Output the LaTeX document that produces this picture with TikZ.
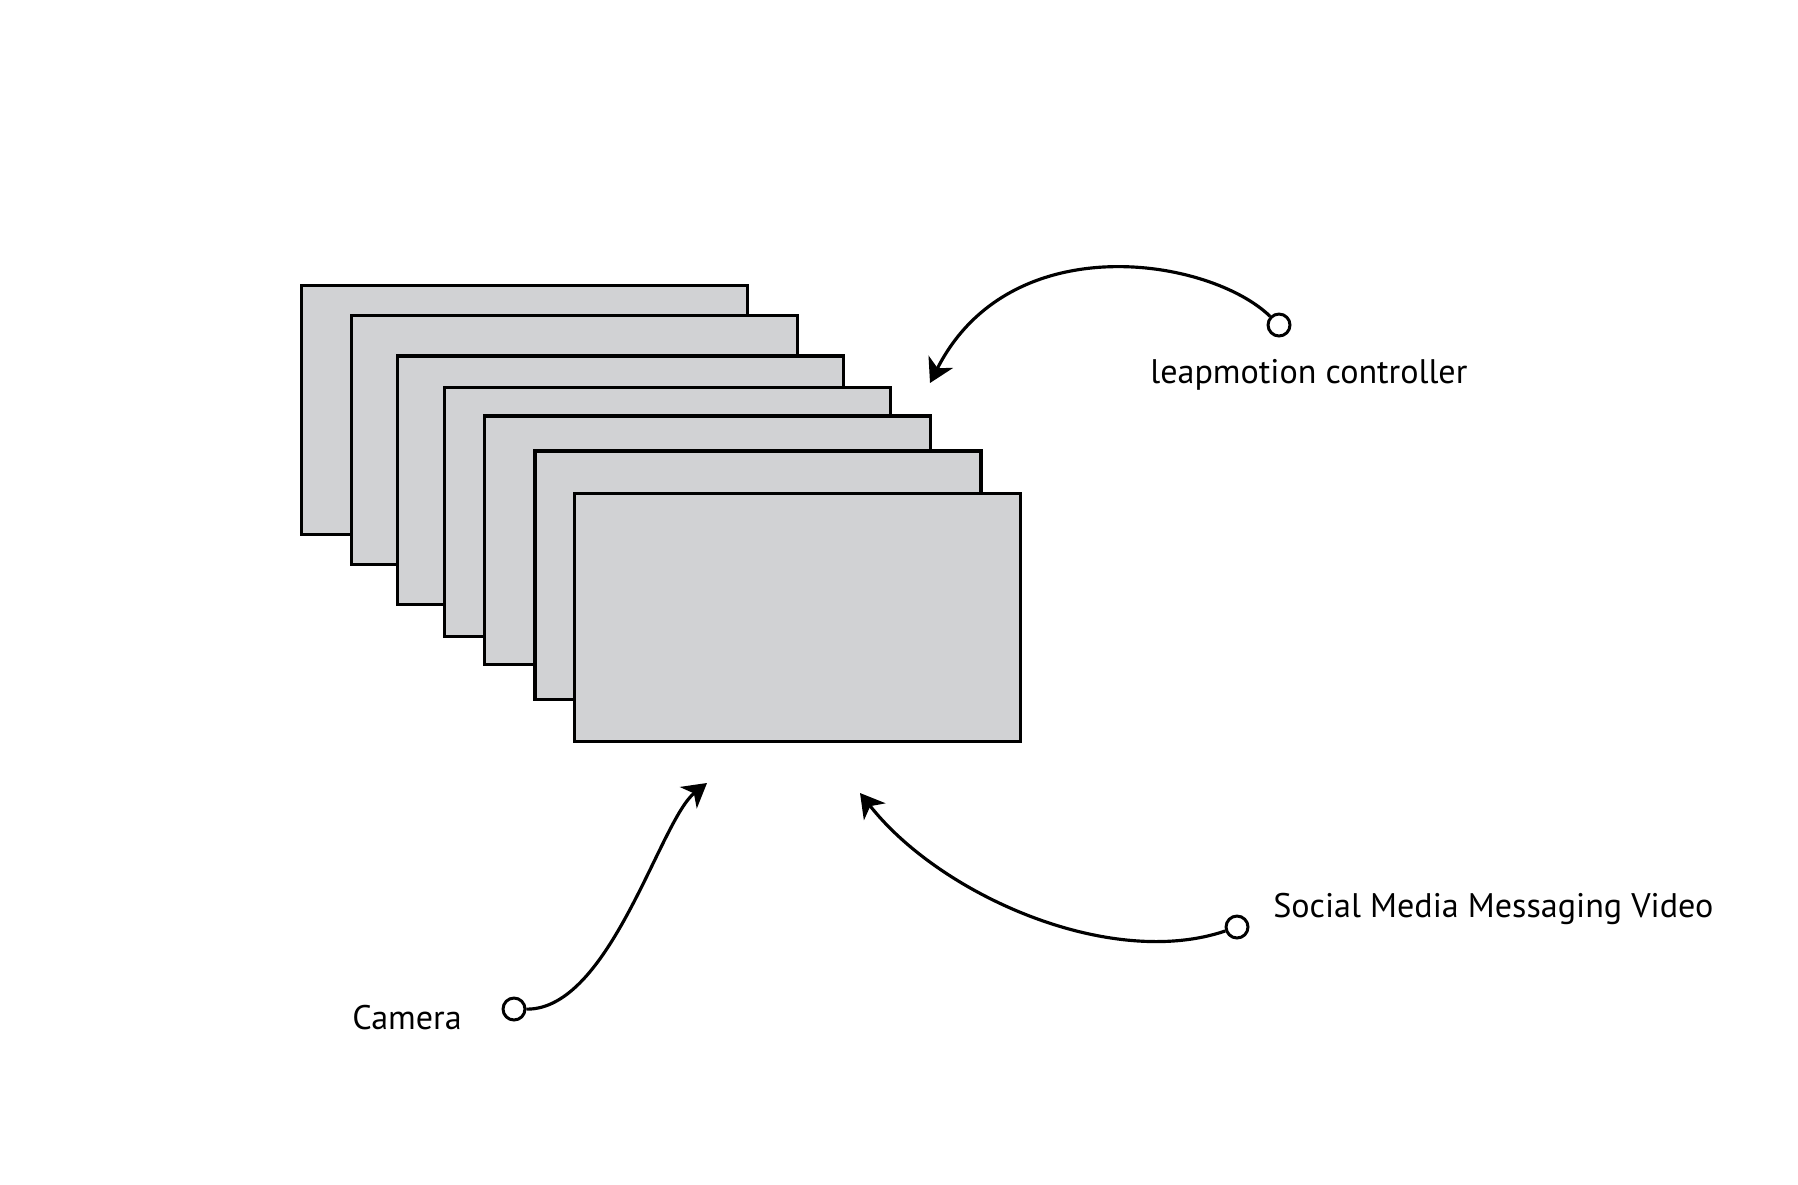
\documentclass[tikz,border=0pt]{standalone}
\usepackage{fontspec}
\setmainfont{PT Sans}
\usetikzlibrary{arrows.meta}
\definecolor{panelgray}{RGB}{209,210,212}
\begin{document}
\begin{tikzpicture}[x=0.02cm,y=-0.02cm,
  frame/.style={draw=black,fill=panelgray,line width=1.85pt},
  port/.style={circle,draw=black,fill=white,line width=1.7pt,minimum size=12.5pt,inner sep=0pt},
  link/.style={line width=1.8pt,-{Stealth[length=13.5pt,width=15.5pt,inset=4pt]}},
  lbl/.style={anchor=base west,inner sep=0pt,font=\fontsize{19.4}{23}\selectfont}]
\useasboundingbox[fill=white] (0,0) rectangle (1798,1184);
% stacked frames
\draw[frame] (301.7,285.7) rectangle +(446,248.5);
\draw[frame] (351.7,315.7) rectangle +(446,248.5);
\draw[frame] (397.7,356.0) rectangle +(446,248.5);
\draw[frame] (444.7,387.7) rectangle +(446,248.5);
\draw[frame] (484.7,416.0) rectangle +(446,248.5);
\draw[frame] (535.0,451.0) rectangle +(446,248.5);
\draw[frame] (574.7,493.3) rectangle +(446,248.5);
% targets
\coordinate (lt) at (930,383);
\coordinate (ct) at (707,783);
\coordinate (st) at (860,793);
% ports
\node[port] (lc) at (1279,325) {};
\node[port] (cc) at (514,1009) {};
\node[port] (sc) at (1237,927) {};
% labels
\node[lbl] (ll) at (1150,383) {leapmotion controller};
\node[lbl] (cl) at (352,1029) {Camera};
\node[lbl] (sl) at (1273,917) {Social Media Messaging Video};
% connectors
\draw[link] (lc) .. controls (1210,258) and (1010,225) .. (lt);
\draw[link] (cc) .. controls (610,1010) and (660,820) .. (ct);
\draw[link] (sc) .. controls (1110,970) and (940,895) .. (st);
\end{tikzpicture}
\end{document}
